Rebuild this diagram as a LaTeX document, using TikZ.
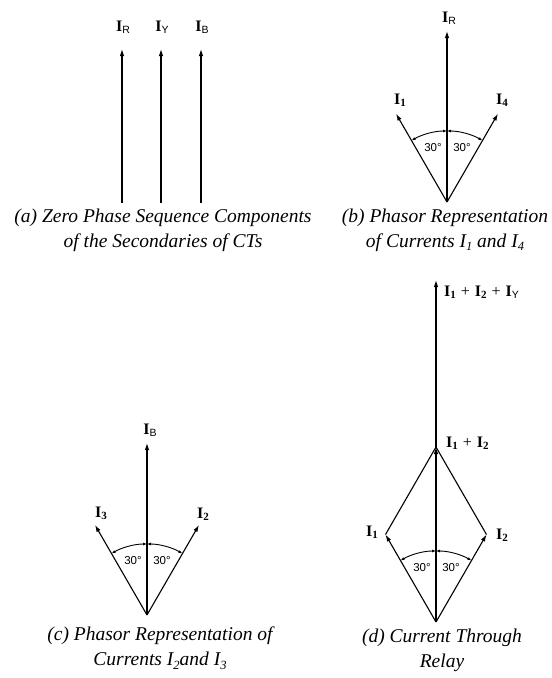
\documentclass[tikz,border=0pt]{standalone}
\usepackage{fontspec}
\setmainfont{Liberation Serif}
\newfontfamily\sansfam{Liberation Sans}
\usetikzlibrary{arrows.meta,calc}
\newcommand\ssub[1]{\raisebox{-0.3ex}{\sansfam\fontsize{10.5}{10.5}\selectfont #1}}
\newcommand\nsub[1]{\raisebox{-0.3ex}{\fontsize{11}{11}\selectfont\bfseries #1}}
\newcommand\csub[1]{\raisebox{-0.4ex}{\fontsize{12.5}{12.5}\selectfont #1}}
\newcommand\BI{\textbf{I}}
\newcommand\pl{\hspace{5pt}+\hspace{5pt}}
\begin{document}
\begin{tikzpicture}[x=1pt,y=-1pt,
  vec/.style={line width=1.1pt,-{Latex[length=7pt,width=4.5pt]}},
  seg/.style={line width=1.1pt},
  arcarrow/.style={line width=0.9pt,{Latex[length=4pt,width=3pt]}-{Latex[length=4pt,width=3pt]}},
  lbl/.style={font=\fontsize{16}{16}\selectfont, inner sep=0pt},
  deg/.style={font=\sansfam\fontsize{11.5}{12}\selectfont, inner sep=0pt},
  captxt/.style={font=\fontsize{19.5}{25}\selectfont\itshape, align=center, inner sep=0pt}]
\fill[white] (0,0) rectangle (552,678);
\useasboundingbox (0,0) rectangle (552,678);

% ---------- (a)
\coordinate (aRb) at (122,203); \coordinate (aRt) at (122,49);
\coordinate (aYb) at (161,203); \coordinate (aYt) at (161,49);
\coordinate (aBb) at (201,203); \coordinate (aBt) at (201,49);
\draw[vec] (aRb) -- (aRt);
\draw[vec] (aYb) -- (aYt);
\draw[vec] (aBb) -- (aBt);
\node[lbl] (aRl) at (123,27) {\BI\ssub{R}};
\node[lbl] (aYl) at (162,27) {\BI\ssub{Y}};
\node[lbl] (aBl) at (202,27) {\BI\ssub{B}};
\node[captxt] (capa) at (163,230) {(a) Zero Phase Sequence Components\\of the Secondaries of CTs};

% ---------- (b)
\coordinate (bO) at (447,202);
\coordinate (bR) at (447,31);
\coordinate (b1) at ($(bO)+(-120:102)$);
\coordinate (b4) at ($(bO)+(-60:102)$);
\draw[vec] (bO) -- (bR);
\draw[vec] (bO) -- (b1);
\draw[vec] (bO) -- (b4);
\draw[arcarrow] ($(bO)+(-120:71)$) arc[start angle=-120,end angle=-90,radius=71];
\draw[arcarrow] ($(bO)+(-90:71)$) arc[start angle=-90,end angle=-60,radius=71];
\node[deg] (b30a) at (433,148) {30°};
\node[deg] (b30b) at (462,148) {30°};
\node[lbl] (bRl) at (449,18) {\BI\ssub{R}};
\node[lbl] (b1l) at (400,100) {\BI\nsub{1}};
\node[lbl] (b4l) at (502,100) {\BI\nsub{4}};
\node[captxt] (capb) at (445,230) {(b) Phasor Representation\\of Currents \textit{I}\csub{1} and \textit{I}\csub{4}};

% ---------- (c)
\coordinate (cO) at (147,615);
\coordinate (cB) at (147,443);
\coordinate (c3) at ($(cO)+(-120:104)$);
\coordinate (c2) at ($(cO)+(-60:104)$);
\draw[vec] (cO) -- (cB);
\draw[vec] (cO) -- (c3);
\draw[vec] (cO) -- (c2);
\draw[arcarrow] ($(cO)+(-120:71)$) arc[start angle=-120,end angle=-90,radius=71];
\draw[arcarrow] ($(cO)+(-90:71)$) arc[start angle=-90,end angle=-60,radius=71];
\node[deg] (c30a) at (133,561) {30°};
\node[deg] (c30b) at (162,561) {30°};
\node[lbl] (cBl) at (150,430) {\BI\ssub{B}};
\node[lbl] (c3l) at (101,513) {\BI\nsub{3}};
\node[lbl] (c2l) at (203,514) {\BI\nsub{2}};
\node[captxt] (capc) at (160,648) {(c) Phasor Representation of\\Currents \textit{I}\csub{2}and \textit{I}\csub{3}};

% ---------- (d)
\coordinate (dO) at (436,622);
\coordinate (d1) at ($(dO)+(-120:101)$);
\coordinate (d2) at ($(dO)+(-60:101)$);
\coordinate (dJ) at (436,447);
\coordinate (dT) at (436,280);
\draw[vec] (dO) -- (d1);
\draw[vec] (dO) -- (d2);
\draw[seg] (d1) -- (dJ);
\draw[seg] (d2) -- (dJ);
\draw[vec] (dO) -- (dJ);
\draw[vec] (dJ) -- (dT);
\draw[arcarrow] ($(dO)+(-120:71)$) arc[start angle=-120,end angle=-90,radius=71];
\draw[arcarrow] ($(dO)+(-90:71)$) arc[start angle=-90,end angle=-60,radius=71];
\node[deg] (d30a) at (422,568) {30°};
\node[deg] (d30b) at (451,568) {30°};
\node[lbl] (d1l) at (372,532) {\BI\nsub{1}};
\node[lbl] (d2l) at (502,535) {\BI\nsub{2}};
\node[lbl,anchor=west] (dJl) at (446,443) {\BI\nsub{1}\pl\BI\nsub{2}};
\node[lbl,anchor=west] (dTl) at (444,292) {\BI\nsub{1}\pl\BI\nsub{2}\pl\BI\ssub{Y}};
\node[captxt] (capd) at (442,650) {(d) Current Through\\Relay};
\end{tikzpicture}
\end{document}
